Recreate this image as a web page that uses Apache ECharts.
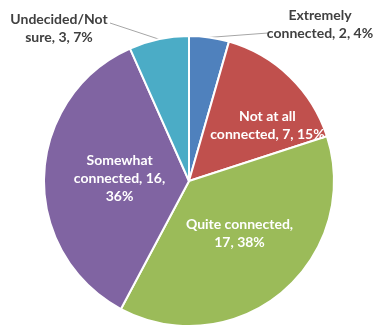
<!DOCTYPE html>
<html>
<head>
<meta charset="utf-8">
<script src="https://cdn.jsdelivr.net/npm/echarts@6/dist/echarts.min.js"></script>
<style>
  html, body { margin: 0; padding: 0; background: #fff; }
  #chart { width: 377px; height: 330px; }
</style>
</head>
<body>
<div id="chart"></div>
<script>
// slices clockwise from 12 o'clock
const names = ['Extremely\nconnected', 'Not at all\nconnected', 'Quite connected', 'Somewhat\nconnected', 'Undecided/Not\nsure'];
const counts = [2, 7, 17, 16, 3];
const colors = ['#4f81bd', '#c0504d', '#9bbb59', '#8064a2', '#4bacc6'];

// label text per slice, broken the way the reference wraps them
const labelTexts = [
  'Extremely\nconnected, 2, 4%',
  'Not at all\nconnected, 7, 15%',
  'Quite connected,\n17, 38%',
  'Somewhat\nconnected, 16,\n36%',
  'Undecided/Not\nsure, 3, 7%'
];

const insideOffset = { 1: [26, -1], 2: [2, -5], 3: [6, 0] };
const outsidePos = { 0: [320, 24], 4: [59, 28] };
const leaderEnd = { 0: [268, 33], 4: [110, 23] };

const chart = echarts.init(document.getElementById('chart'), null, { renderer: 'canvas' });

chart.setOption({
  animation: false,
  series: [{
    type: 'pie',
    center: [189, 181],
    radius: 145,
    startAngle: 90,
    clockwise: true,
    avoidLabelOverlap: false,
    itemStyle: { borderColor: '#fff', borderWidth: 2 },
    labelLayout: (p) => {
      const pos = outsidePos[p.dataIndex];
      if (!pos) return {};
      const start = p.labelLinePoints ? p.labelLinePoints[0] : null;
      const out = { x: pos[0], y: pos[1], align: 'center', verticalAlign: 'middle' };
      if (start) out.labelLinePoints = [start, leaderEnd[p.dataIndex], leaderEnd[p.dataIndex]];
      return out;
    },
    data: counts.map((v, i) => {
      const outside = !!outsidePos[i];
      return {
        name: names[i],
        value: v,
        itemStyle: { color: colors[i] },
        label: {
          show: true,
          position: outside ? 'outside' : 'inside',
          formatter: () => labelTexts[i],
          offset: insideOffset[i] || [0, 0],
          color: outside ? '#404040' : '#ffffff',
          fontFamily: 'Lato',
          fontWeight: 'bold',
          fontSize: 14,
          lineHeight: 18,
          align: 'center',
          overflow: 'none'
        },
        labelLine: {
          show: outside,
          length: 8,
          length2: 30,
          lineStyle: { color: '#a6a6a6', width: 1 }
        }
      };
    })
  }]
});
</script>
</body>
</html>
